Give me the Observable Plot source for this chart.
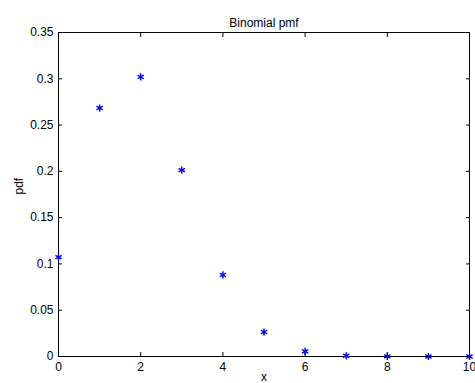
<!DOCTYPE html>
<html><head><meta charset="utf-8">
<script src="https://cdn.jsdelivr.net/npm/d3@7"></script>
<script src="https://cdn.jsdelivr.net/npm/@observablehq/plot@0.6"></script>
<style>body{margin:0;background:#fff}</style>
</head><body><div id="chart"></div>
<script>
const xs = [0,1,2,3,4,5,6,7,8,9,10];
const pmf = [0.1074,0.2684,0.3020,0.2013,0.0881,0.0264,0.0055,0.0008,0.0001,0.0000,0.0000];
const xTicks = [0,2,4,6,8,10];
const yTicks = [0,0.05,0.1,0.15,0.2,0.25,0.3,0.35];
const title = "Binomial pmf";
const xLabel = "x";
const yLabel = "pdf";
const data = xs.map((x,i)=>({x, y: pmf[i]}));
const fmt = d => String(+d.toFixed(2));
const chart = Plot.plot({
  width: 475, height: 383,
  marginLeft: 58, marginRight: 6, marginTop: 32, marginBottom: 27,
  style: {fontFamily: "Liberation Sans, Arial, sans-serif", fontSize: "12px", color: "#000", background: "#fff"},
  x: {domain: [0,10]},
  y: {domain: [0,0.35]},
  marks: [
    Plot.frame({stroke: "#000", strokeWidth: 1}),
    Plot.axisX({anchor: "bottom", ticks: xTicks, tickSize: -4, tickPadding: 10, tickFormat: fmt, label: null, fontSize: 12}),
    Plot.axisX({anchor: "top", ticks: xTicks, tickSize: -4, tickFormat: () => "", label: null}),
    Plot.axisY({anchor: "left", ticks: yTicks, tickSize: -4, tickPadding: 9, tickFormat: fmt, label: null, fontSize: 12}),
    Plot.axisY({anchor: "right", ticks: yTicks, tickSize: -4, tickFormat: () => "", label: null}),
    Plot.dot(data, {x: "x", y: "y", symbol: "asterisk", r: 3.4, stroke: "#0000ff", strokeWidth: 1.4}),
    Plot.text([title], {frameAnchor: "top", dy: -14, fontSize: 12}),
    Plot.text([xLabel], {frameAnchor: "bottom", dy: 24, fontSize: 12}),
    Plot.text([yLabel], {frameAnchor: "left", dx: -39, rotate: -90, fontSize: 12})
  ]
});
document.getElementById("chart").append(chart);
</script>
</body></html>
